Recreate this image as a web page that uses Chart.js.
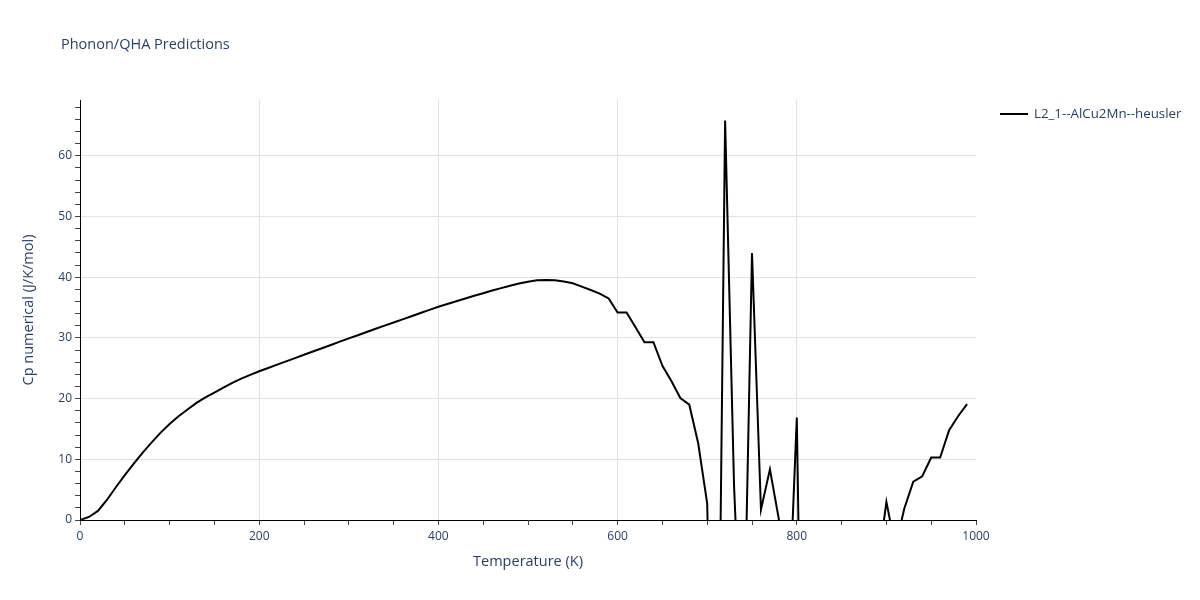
<!DOCTYPE html>
<html>
<head>
<meta charset="utf-8">
<script src="https://cdn.jsdelivr.net/npm/chart.js@4.4.1/dist/chart.umd.min.js"></script>
<style>
  html, body { margin: 0; padding: 0; background: #fff; }
  #wrap { width: 1200px; height: 600px; position: relative; }
</style>
</head>
<body>
<div id="wrap"><canvas id="cpChart"></canvas></div>
<script>
// temperatures (K) and Cp numerical (J/K/mol)
const temperatures = [
    0, 10, 20, 30, 40, 50, 60, 70, 80, 90,
    100, 110, 120, 130, 140, 150, 160, 170, 180, 190,
    200, 210, 220, 230, 240, 250, 260, 270, 280, 290,
    300, 310, 320, 330, 340, 350, 360, 370, 380, 390,
    400, 410, 420, 430, 440, 450, 460, 470, 480, 490,
    500, 510, 520, 530, 540, 550, 560, 570, 580, 590,
    600, 610, 620, 630, 640, 650, 660, 670, 680, 690,
    700, 710, 720, 730, 740, 750, 760, 770, 780, 790,
    800, 810, 820, 830, 840, 850, 860, 870, 880, 890,
    900, 910, 920, 930, 940, 950, 960, 970, 980, 990
];
const cpValues = [
    0, 0.5, 1.5, 3.3, 5.4, 7.4, 9.3, 11.1, 12.8, 14.4,
    15.8, 17.1, 18.2, 19.3, 20.2, 21.0, 21.8, 22.6, 23.3, 23.9,
    24.5, 25.05, 25.6, 26.14, 26.68, 27.22, 27.76, 28.3, 28.84, 29.38,
    29.92, 30.45, 30.98, 31.5, 32.02, 32.54, 33.06, 33.58, 34.1, 34.62,
    35.14, 35.6, 36.05, 36.5, 36.95, 37.37, 37.8, 38.2, 38.6, 38.95,
    39.25, 39.5, 39.55, 39.5, 39.3, 39.0, 38.45, 37.9, 37.3, 36.5,
    34.2, 34.2, 31.75, 29.3, 29.3, 25.4, 22.9, 20.1, 19.0, 12.6,
    2.7, -65.8, 65.8, 5.5, -29.3, 44.0, 1.7, 8.35, 0.1, -19.8,
    16.9, -77, -30, -45, -20, -35, -25, -40, -15, -8.1,
    3.0, -4.5, 1.9, 6.3, 7.2, 10.3, 10.3, 14.8, 17.1, 19.1
];
const seriesName = 'L2_1--AlCu2Mn--heusler';
const chartTitle = 'Phonon/QHA Predictions';
const xTitle = 'Temperature (K)';
const yTitle = 'Cp numerical (J/K/mol)';

const textColor = '#2a3f5f';
const fontFamily = "'Open Sans', verdana, arial, sans-serif";

Chart.defaults.font.family = fontFamily;
Chart.defaults.color = textColor;

// title + legend drawn at fixed spots like the original layout
const decorPlugin = {
    id: 'decor',
    afterDraw(chart) {
        const ctx = chart.ctx;
        ctx.save();
        ctx.fillStyle = textColor;
        ctx.font = '14.5px ' + fontFamily;
        ctx.textBaseline = 'middle';
        ctx.textAlign = 'left';
        ctx.fillText(chartTitle, 61, 45);

        const ds = chart.data.datasets[0];
        ctx.strokeStyle = ds.borderColor;
        ctx.lineWidth = 2;
        ctx.beginPath();
        ctx.moveTo(1000, 114);
        ctx.lineTo(1028, 114);
        ctx.stroke();
        ctx.font = '13.3px ' + fontFamily;
        ctx.fillText(ds.label, 1034, 114);
        ctx.restore();
    }
};

const ctx = document.getElementById('cpChart').getContext('2d');
new Chart(ctx, {
    type: 'line',
    data: {
        datasets: [{
            label: seriesName,
            data: temperatures.map((t, i) => ({ x: t, y: cpValues[i] })),
            borderColor: '#000000',
            borderWidth: 2,
            pointRadius: 0,
            tension: 0,
            fill: false
        }]
    },
    options: {
        responsive: true,
        maintainAspectRatio: false,
        animation: false,
        layout: {
            padding: { left: 0, top: 100, right: 224, bottom: 0 }
        },
        plugins: {
            legend: { display: false },
            title: { display: false },
            tooltip: { enabled: false }
        },
        scales: {
            x: {
                type: 'linear',
                min: 0,
                max: 1000,
                afterFit(scale) { scale.height = 80; },
                afterBuildTicks(axis) {
                    const t = [];
                    for (let v = 0; v <= 1000; v += 50) t.push({ value: v });
                    axis.ticks = t;
                },
                ticks: {
                    autoSkip: false,
                    maxRotation: 0,
                    padding: 4,
                    font: { size: 12 },
                    color: textColor,
                    callback: v => (v % 200 === 0 ? v : '')
                },
                grid: {
                    color: c => (c.tick && c.tick.value % 200 === 0 && c.tick.value > 0 && c.tick.value < 1000) ? '#e2e2e2' : 'rgba(0,0,0,0)',
                    tickColor: '#444',
                    tickLength: 5,
                    drawTicks: true
                },
                border: { display: true, color: '#000', width: 1 },
                title: {
                    display: true,
                    text: xTitle,
                    font: { size: 14.5 },
                    color: textColor,
                    padding: 29
                }
            },
            y: {
                type: 'linear',
                min: 0,
                max: 69.2,
                afterFit(scale) { scale.width = 80; },
                afterBuildTicks(axis) {
                    const t = [];
                    for (let v = 0; v <= 68; v += 2) t.push({ value: v });
                    axis.ticks = t;
                },
                ticks: {
                    autoSkip: false,
                    padding: 3,
                    font: { size: 12 },
                    color: textColor,
                    callback: v => (v % 10 === 0 ? v : '')
                },
                grid: {
                    color: c => (c.tick && c.tick.value % 10 === 0 && c.tick.value > 0) ? '#e2e2e2' : 'rgba(0,0,0,0)',
                    tickColor: '#444',
                    tickLength: 5,
                    drawTicks: true
                },
                border: { display: true, color: '#000', width: 1 },
                title: {
                    display: true,
                    text: yTitle,
                    font: { size: 14.5 },
                    color: textColor,
                    padding: 20
                }
            }
        }
    },
    plugins: [decorPlugin]
});
</script>
</body>
</html>
